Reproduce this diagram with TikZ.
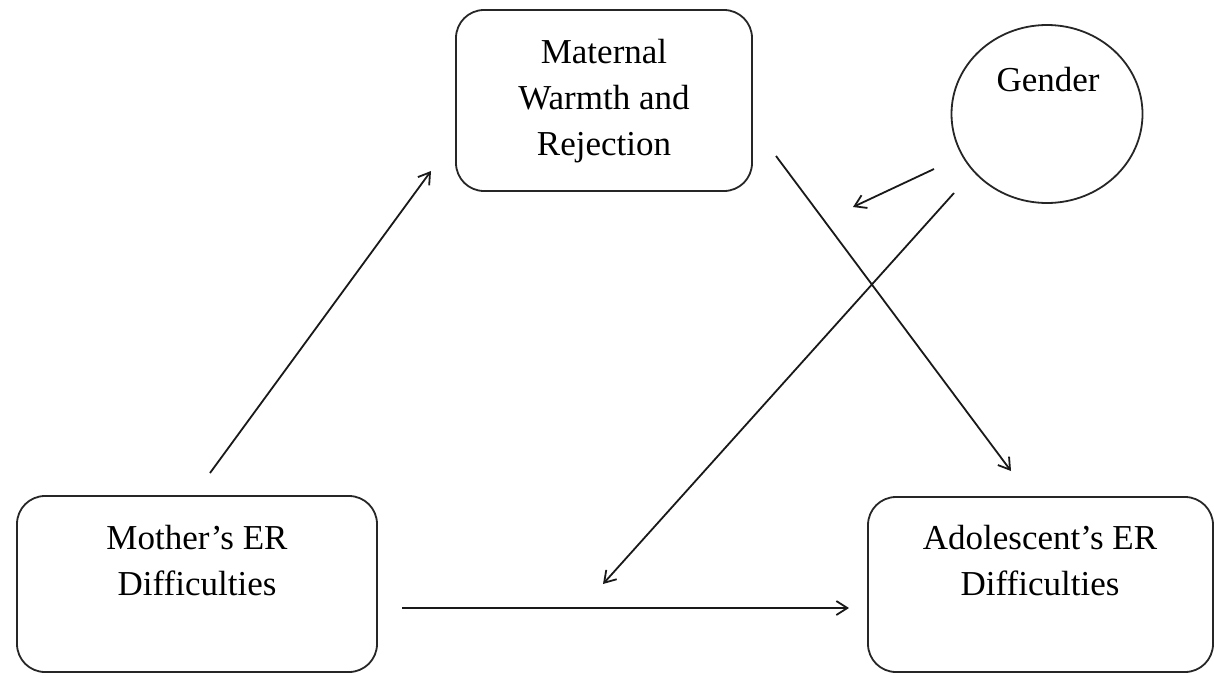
\documentclass[tikz,border=0pt]{standalone}
\usepackage{fontspec}
\setmainfont{Liberation Serif}
\usetikzlibrary{arrows.meta,shapes.geometric}
\begin{document}
\begin{tikzpicture}[x=1pt,y=-1pt,
  boxst/.style={draw=black!85, line width=1.8pt, rounded corners=28pt, inner sep=0pt},
  txt/.style={align=center, font=\fontsize{35}{46}\selectfont, inner sep=0pt},
  arr/.style={draw=black!90, line width=1.8pt, -{Straight Barb[length=11pt,width=14pt,line width=1.8pt]}}
]
\useasboundingbox (0,0) rectangle (1214,675);
% boxes
\node[boxst, minimum width=296pt, minimum height=181pt] (mat) at (604,100.5) {};
\node[txt] (matt) at (604,101) {Maternal\\Warmth and\\Rejection};
\node[boxst, minimum width=360pt, minimum height=176pt] (mom) at (197,584) {};
\node[txt] (momt) at (197,561) {Mother’s ER\\Difficulties};
\node[boxst, minimum width=345pt, minimum height=175pt] (ado) at (1040.5,584.5) {};
\node[txt] (adot) at (1040,561) {Adolescent’s ER\\Difficulties};
\node[draw=black!85, line width=1.8pt, ellipse, minimum width=191pt, minimum height=178pt, inner sep=0pt] (gen) at (1047,114) {};
\node[txt] (gent) at (1048,80) {Gender};
% arrow end points
\coordinate (a1s) at (210,473);
\coordinate (a1e) at (431,171);
\coordinate (a2s) at (776,156);
\coordinate (a2e) at (1011,471);
\coordinate (a3s) at (934,169);
\coordinate (a3e) at (853,207);
\coordinate (a4s) at (954,193);
\coordinate (a4e) at (603,584);
\coordinate (a5s) at (402,608);
\coordinate (a5e) at (849,608);
\draw[arr] (a1s) -- (a1e);
\draw[arr] (a2s) -- (a2e);
\draw[arr] (a3s) -- (a3e);
\draw[arr] (a4s) -- (a4e);
\draw[arr] (a5s) -- (a5e);
\end{tikzpicture}
\end{document}
